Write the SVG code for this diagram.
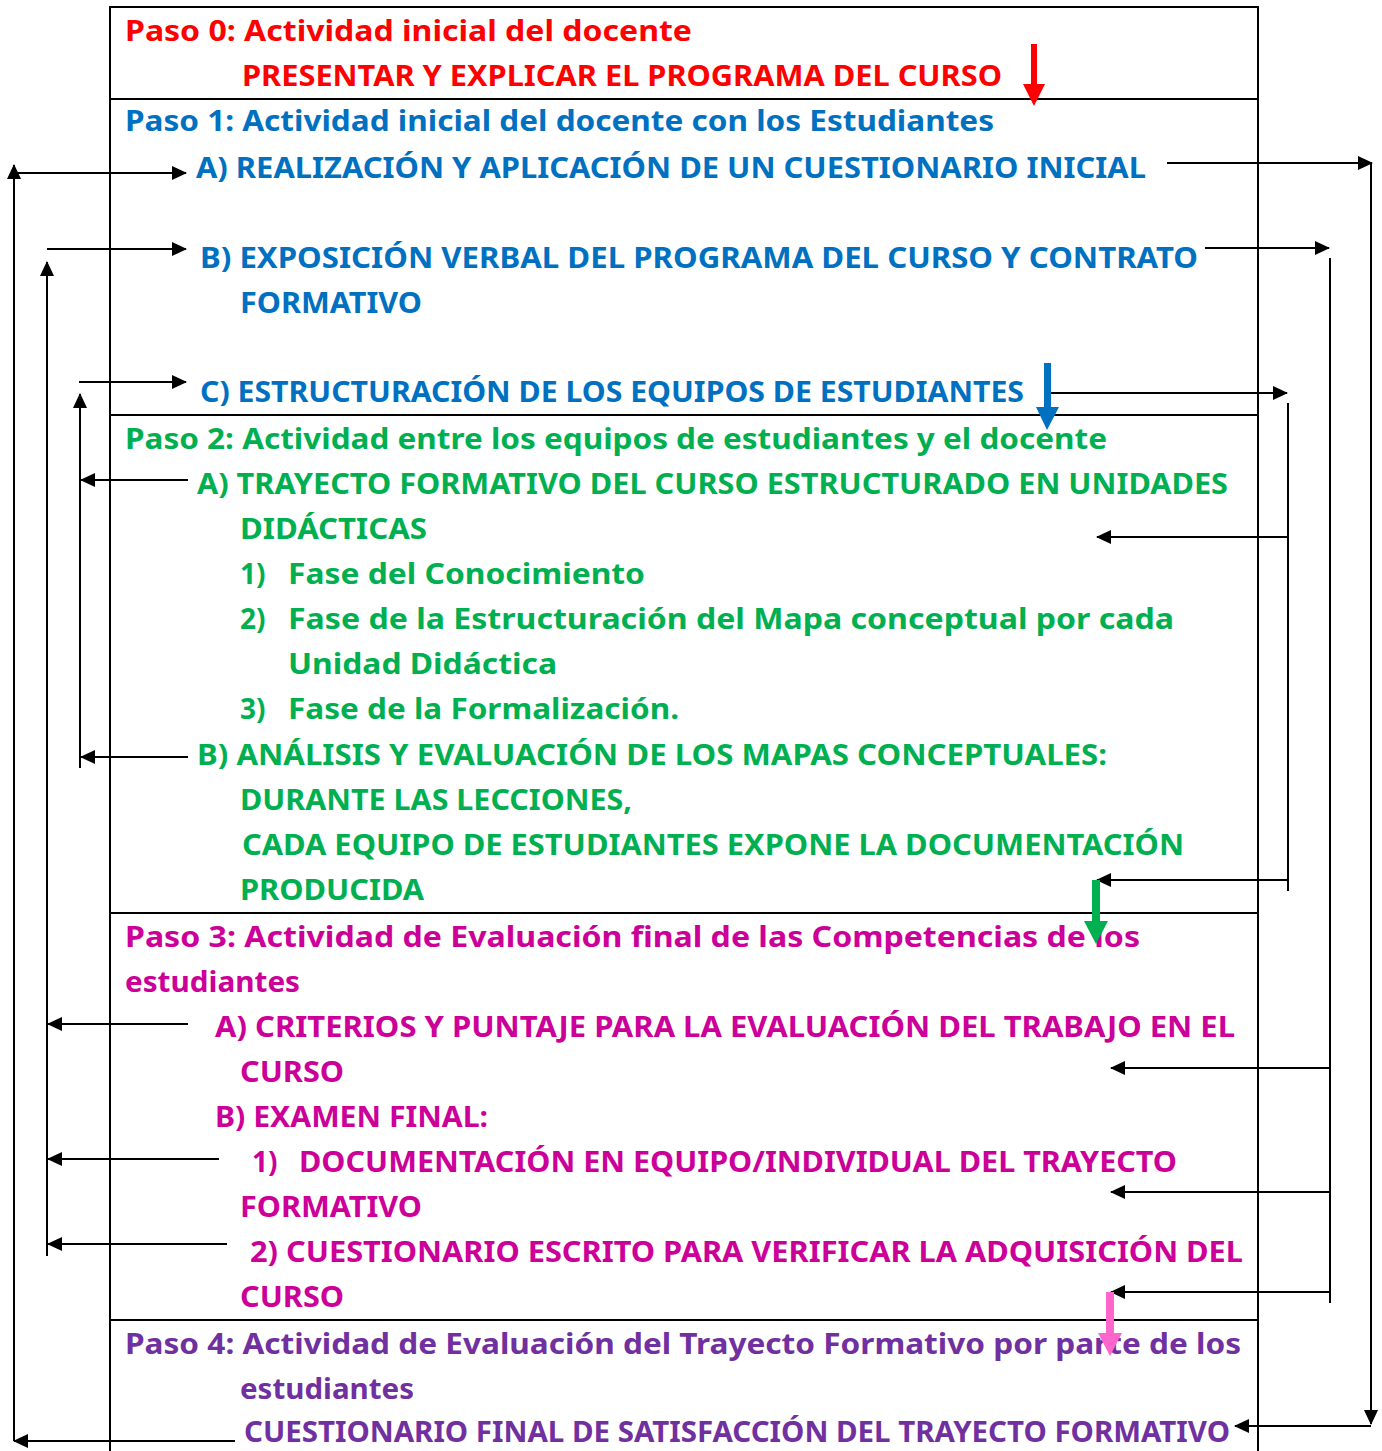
<svg xmlns="http://www.w3.org/2000/svg" width="1382" height="1451" viewBox="0 0 1382 1451">
<style>
.box{fill:none;stroke:#000;stroke-width:2}
.t{font-family:"Noto Sans","DejaVu Sans",sans-serif;font-weight:bold;font-size:28px}
.red{fill:#FF0000}.blue{fill:#0070C0}.green{fill:#00B050}.mag{fill:#CC0099}.pur{fill:#7030A0}
.c{fill:none;stroke:#000;stroke-width:2}
.ca{fill:none;stroke:#000;stroke-width:2;marker-end:url(#ah)}
</style>
<defs>
<marker id="ah" viewBox="0 0 15 14" refX="14" refY="7" markerWidth="15" markerHeight="14" markerUnits="userSpaceOnUse" orient="auto">
<path d="M0,0 L15,7 L0,14 z" fill="#000"/>
</marker>
</defs>
<rect width="1382" height="1451" fill="#fff"/>

<g id="paso0">
<rect class="box" x="110" y="7" width="1148" height="92"/>
<text class="t red" x="125" y="41" textLength="567" lengthAdjust="spacingAndGlyphs">Paso 0: Actividad inicial del docente</text>
<text class="t red" x="242" y="86" textLength="760" lengthAdjust="spacingAndGlyphs">PRESENTAR Y EXPLICAR EL PROGRAMA DEL CURSO</text>
</g>

<g id="paso1">
<rect class="box" x="110" y="99" width="1148" height="316"/>
<text class="t blue" x="125" y="131" textLength="869" lengthAdjust="spacingAndGlyphs">Paso 1: Actividad inicial del docente con los Estudiantes</text>
<text class="t blue" x="196" y="178" textLength="950" lengthAdjust="spacingAndGlyphs">A) REALIZACIÓN Y APLICACIÓN DE UN CUESTIONARIO INICIAL</text>
<text class="t blue" x="200" y="268" textLength="998" lengthAdjust="spacingAndGlyphs">B) EXPOSICIÓN VERBAL DEL PROGRAMA DEL CURSO Y CONTRATO</text>
<text class="t blue" x="240" y="313" textLength="182" lengthAdjust="spacingAndGlyphs">FORMATIVO</text>
<text class="t blue" x="200" y="402" textLength="824" lengthAdjust="spacingAndGlyphs">C) ESTRUCTURACIÓN DE LOS EQUIPOS DE ESTUDIANTES</text>
</g>

<g id="paso2">
<rect class="box" x="110" y="415" width="1148" height="498"/>
<text class="t green" x="125" y="449" textLength="982" lengthAdjust="spacingAndGlyphs">Paso 2: Actividad entre los equipos de estudiantes y el docente</text>
<text class="t green" x="197" y="494" textLength="1031" lengthAdjust="spacingAndGlyphs">A) TRAYECTO FORMATIVO DEL CURSO ESTRUCTURADO EN UNIDADES</text>
<text class="t green" x="240" y="539" textLength="187" lengthAdjust="spacingAndGlyphs">DIDÁCTICAS</text>
<text class="t green" x="240" y="584">1)</text>
<text class="t green" x="288" y="584" textLength="357" lengthAdjust="spacingAndGlyphs">Fase del Conocimiento</text>
<text class="t green" x="240" y="629">2)</text>
<text class="t green" x="288" y="629" textLength="886" lengthAdjust="spacingAndGlyphs">Fase de la Estructuración del Mapa conceptual por cada</text>
<text class="t green" x="288" y="674" textLength="269" lengthAdjust="spacingAndGlyphs">Unidad Didáctica</text>
<text class="t green" x="240" y="719">3)</text>
<text class="t green" x="288" y="719" textLength="391" lengthAdjust="spacingAndGlyphs">Fase de la Formalización.</text>
<text class="t green" x="197" y="765" textLength="910" lengthAdjust="spacingAndGlyphs">B) ANÁLISIS Y EVALUACIÓN DE LOS MAPAS CONCEPTUALES:</text>
<text class="t green" x="240" y="810" textLength="392" lengthAdjust="spacingAndGlyphs">DURANTE LAS LECCIONES,</text>
<text class="t green" x="242" y="855" textLength="942" lengthAdjust="spacingAndGlyphs">CADA EQUIPO DE ESTUDIANTES EXPONE LA DOCUMENTACIÓN</text>
<text class="t green" x="240" y="900" textLength="184" lengthAdjust="spacingAndGlyphs">PRODUCIDA</text>
</g>

<g id="paso3">
<rect class="box" x="110" y="913" width="1148" height="407"/>
<text class="t mag" x="125" y="947" textLength="1015" lengthAdjust="spacingAndGlyphs">Paso 3: Actividad de Evaluación final de las Competencias de los</text>
<text class="t mag" x="125" y="992" textLength="175" lengthAdjust="spacingAndGlyphs">estudiantes</text>
<text class="t mag" x="215" y="1037" textLength="1020" lengthAdjust="spacingAndGlyphs">A) CRITERIOS Y PUNTAJE PARA LA EVALUACIÓN DEL TRABAJO EN EL</text>
<text class="t mag" x="240" y="1082" textLength="104" lengthAdjust="spacingAndGlyphs">CURSO</text>
<text class="t mag" x="215" y="1127" textLength="273" lengthAdjust="spacingAndGlyphs">B) EXAMEN FINAL:</text>
<text class="t mag" x="252" y="1172">1)</text>
<text class="t mag" x="299" y="1172" textLength="878" lengthAdjust="spacingAndGlyphs">DOCUMENTACIÓN EN EQUIPO/INDIVIDUAL DEL TRAYECTO</text>
<text class="t mag" x="240" y="1217" textLength="182" lengthAdjust="spacingAndGlyphs">FORMATIVO</text>
<text class="t mag" x="250" y="1262" textLength="993" lengthAdjust="spacingAndGlyphs">2) CUESTIONARIO ESCRITO PARA VERIFICAR LA ADQUISICIÓN DEL</text>
<text class="t mag" x="240" y="1307" textLength="104" lengthAdjust="spacingAndGlyphs">CURSO</text>
</g>

<g id="paso4">
<rect class="box" x="110" y="1320" width="1148" height="140"/>
<text class="t pur" x="125" y="1354" textLength="1116" lengthAdjust="spacingAndGlyphs">Paso 4: Actividad de Evaluación del Trayecto Formativo por parte de los</text>
<text class="t pur" x="240" y="1399" textLength="174" lengthAdjust="spacingAndGlyphs">estudiantes</text>
<text class="t pur" x="244" y="1442" textLength="986" lengthAdjust="spacingAndGlyphs">CUESTIONARIO FINAL DE SATISFACCIÓN DEL TRAYECTO FORMATIVO</text>
</g>

<g id="connectors">
<path class="ca" d="M1167,163 H1372"/>
<path class="ca" d="M1371,163 V1424"/>
<path class="ca" d="M1371,1426 H1235"/>
<path class="ca" d="M1205,248 H1329"/>
<path class="c" d="M1330,258 V1303"/>
<path class="ca" d="M1330,1068 H1111"/>
<path class="ca" d="M1330,1192 H1111"/>
<path class="ca" d="M1330,1292 H1111"/>
<path class="ca" d="M1050,393 H1287"/>
<path class="c" d="M1288,403 V891"/>
<path class="ca" d="M1288,537 H1097"/>
<path class="ca" d="M1288,880 H1097"/>
<path class="ca" d="M235,1441 H14"/>
<path class="ca" d="M14,1441 V165"/>
<path class="ca" d="M14,173 H186"/>
<path class="ca" d="M188,1024 H48"/>
<path class="ca" d="M219,1159 H48"/>
<path class="ca" d="M227,1244 H48"/>
<path class="ca" d="M47,1256 V262"/>
<path class="ca" d="M47,249 H186"/>
<path class="ca" d="M188,480 H81"/>
<path class="ca" d="M188,757 H81"/>
<path class="ca" d="M80,768 V394"/>
<path class="ca" d="M79,382 H186"/>
<polygon fill="#FF0000" points="1031,44 1037,44 1037,84 1045,84 1034,106 1023,84 1031,84"/>
<polygon fill="#0070C0" points="1044,363 1051,363 1051,407 1059,407 1047,430 1036,407 1044,407"/>
<polygon fill="#00B050" points="1092,880 1100,880 1100,921 1108,921 1096,944 1084,921 1092,921"/>
<polygon fill="#FF66CC" points="1106,1292 1114,1292 1114,1333 1122,1333 1110,1356 1098,1333 1106,1333"/>
</g>
</svg>
